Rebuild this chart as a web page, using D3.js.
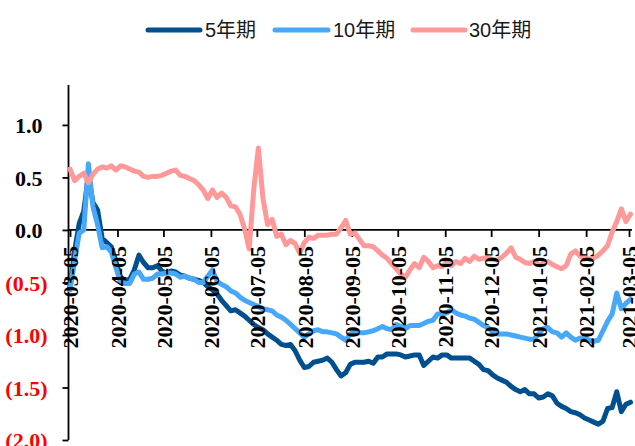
<!DOCTYPE html>
<html><head><meta charset="utf-8">
<script src="https://cdn.jsdelivr.net/npm/d3@7"></script>
<style>body{margin:0;background:#fff}</style>
</head><body>
<svg id="chart" width="635" height="446"></svg>
<script>
const dates = [
"2020-03-05","2020-03-08","2020-03-11","2020-03-14","2020-03-17","2020-03-20","2020-03-23","2020-03-26","2020-03-29","2020-04-01",
"2020-04-04","2020-04-07","2020-04-10","2020-04-13","2020-04-16","2020-04-19","2020-04-22","2020-04-25","2020-04-28","2020-05-01",
"2020-05-04","2020-05-07","2020-05-10","2020-05-13","2020-05-16","2020-05-19","2020-05-22","2020-05-25","2020-05-28","2020-05-31",
"2020-06-03","2020-06-06","2020-06-09","2020-06-12","2020-06-15","2020-06-18","2020-06-21","2020-06-24","2020-06-27","2020-06-30",
"2020-07-03","2020-07-06","2020-07-09","2020-07-12","2020-07-15","2020-07-18","2020-07-21","2020-07-24","2020-07-27","2020-07-30",
"2020-08-02","2020-08-05","2020-08-08","2020-08-11","2020-08-14","2020-08-17","2020-08-20","2020-08-23","2020-08-26","2020-08-29",
"2020-09-01","2020-09-04","2020-09-07","2020-09-10","2020-09-13","2020-09-16","2020-09-19","2020-09-22","2020-09-25","2020-09-28",
"2020-10-01","2020-10-04","2020-10-07","2020-10-10","2020-10-13","2020-10-16","2020-10-19","2020-10-22","2020-10-25","2020-10-28",
"2020-10-31","2020-11-03","2020-11-06","2020-11-09","2020-11-12","2020-11-15","2020-11-18","2020-11-21","2020-11-24","2020-11-27",
"2020-11-30","2020-12-03","2020-12-06","2020-12-09","2020-12-12","2020-12-15","2020-12-18","2020-12-21","2020-12-24","2020-12-27",
"2020-12-30","2021-01-02","2021-01-05","2021-01-08","2021-01-11","2021-01-14","2021-01-17","2021-01-20","2021-01-23","2021-01-26",
"2021-01-29","2021-02-01","2021-02-04","2021-02-07","2021-02-10","2021-02-13","2021-02-16","2021-02-19","2021-02-22","2021-02-25",
"2021-02-28","2021-03-03","2021-03-06"];

const values5 = [
-0.56,-0.20,0.06,0.18,0.52,0.26,0.19,-0.08,-0.12,-0.16,
-0.30,-0.45,-0.48,-0.47,-0.38,-0.24,-0.31,-0.36,-0.36,-0.34,
-0.39,-0.41,-0.39,-0.40,-0.43,-0.44,-0.46,-0.47,-0.48,-0.50,
-0.54,-0.57,-0.61,-0.67,-0.72,-0.77,-0.76,-0.79,-0.82,-0.86,
-0.90,-0.93,-0.95,-0.99,-1.02,-1.05,-1.09,-1.10,-1.09,-1.15,
-1.24,-1.31,-1.30,-1.26,-1.25,-1.24,-1.22,-1.26,-1.33,-1.39,
-1.36,-1.28,-1.26,-1.26,-1.26,-1.25,-1.27,-1.21,-1.21,-1.18,
-1.18,-1.18,-1.19,-1.21,-1.20,-1.19,-1.19,-1.29,-1.25,-1.21,
-1.22,-1.19,-1.19,-1.22,-1.22,-1.22,-1.22,-1.22,-1.25,-1.28,
-1.33,-1.34,-1.38,-1.41,-1.43,-1.45,-1.49,-1.52,-1.54,-1.52,
-1.56,-1.56,-1.60,-1.59,-1.56,-1.58,-1.65,-1.68,-1.70,-1.73,
-1.74,-1.76,-1.79,-1.81,-1.83,-1.85,-1.82,-1.70,-1.69,-1.54,
-1.73,-1.66,-1.64];

const values10 = [
-0.57,-0.30,-0.03,0.00,0.63,0.22,0.05,-0.17,-0.16,-0.21,
-0.36,-0.50,-0.51,-0.51,-0.42,-0.40,-0.47,-0.47,-0.46,-0.42,
-0.42,-0.41,-0.41,-0.42,-0.45,-0.44,-0.46,-0.47,-0.50,-0.50,
-0.44,-0.38,-0.49,-0.52,-0.54,-0.58,-0.60,-0.64,-0.67,-0.69,
-0.71,-0.73,-0.75,-0.76,-0.77,-0.81,-0.83,-0.86,-0.90,-0.94,
-0.98,-1.02,-0.99,-0.96,-0.95,-0.97,-0.97,-0.98,-0.99,-1.02,
-1.05,-0.99,-0.97,-0.98,-0.98,-0.97,-0.96,-0.94,-0.92,-0.94,
-0.95,-0.90,-0.92,-0.94,-0.91,-0.91,-0.91,-0.89,-0.87,-0.86,
-0.80,-0.80,-0.79,-0.76,-0.79,-0.81,-0.82,-0.84,-0.85,-0.88,
-0.91,-0.93,-0.97,-0.99,-0.99,-0.99,-1.00,-1.01,-1.02,-1.03,
-1.04,-1.04,-0.99,-0.94,-0.93,-0.97,-0.98,-1.02,-0.98,-1.02,
-1.05,-1.03,-1.03,-1.05,-1.06,-1.05,-0.96,-0.87,-0.80,-0.60,
-0.75,-0.70,-0.66];

const values30 = [
0.58,0.47,0.51,0.54,0.45,0.53,0.58,0.60,0.59,0.61,
0.57,0.61,0.60,0.58,0.56,0.55,0.51,0.50,0.51,0.51,
0.52,0.54,0.56,0.57,0.52,0.51,0.49,0.47,0.43,0.38,
0.30,0.38,0.31,0.35,0.31,0.23,0.22,0.15,0.01,-0.18,
0.39,0.78,0.30,0.05,0.10,-0.06,-0.04,-0.14,-0.10,-0.13,
-0.22,-0.12,-0.07,-0.08,-0.05,-0.05,-0.05,-0.04,-0.04,0.02,
0.09,-0.04,-0.03,-0.09,-0.15,-0.15,-0.16,-0.20,-0.24,-0.27,
-0.32,-0.37,-0.42,-0.45,-0.38,-0.32,-0.36,-0.26,-0.30,-0.36,
-0.34,-0.35,-0.31,-0.34,-0.30,-0.32,-0.27,-0.30,-0.25,-0.28,
-0.27,-0.27,-0.28,-0.29,-0.26,-0.22,-0.17,-0.26,-0.28,-0.31,
-0.32,-0.30,-0.33,-0.32,-0.30,-0.33,-0.35,-0.37,-0.34,-0.23,
-0.20,-0.25,-0.26,-0.28,-0.27,-0.24,-0.20,-0.15,-0.02,0.08,
0.20,0.08,0.15];

const seriesNames = ["5年期","10年期","30年期"];
const seriesColors = ["#00508f","#47a8fa","#ff9999"];
const yTickValues = [1.0,0.5,0.0,-0.5,-1.0,-1.5,-2.0];
const xTickLabels = ["2020-03-05","2020-04-05","2020-05-05","2020-06-05","2020-07-05","2020-08-05",
  "2020-09-05","2020-10-05","2020-11-05","2020-12-05","2021-01-05","2021-02-05","2021-03-05"];

const parse = d3.timeParse("%Y-%m-%d");
const fmt = d3.timeFormat("%Y-%m-%d");
const svg = d3.select("#chart");
const serifFont = "'Liberation Serif','Times New Roman',serif";

const x = d3.scaleTime().domain([parse("2020-03-05"), parse("2021-03-05")]).range([70, 629]);
const y = d3.scaleLinear().domain([-2, 1.38]).range([440, 85]);
const axisX0 = 68.5, axisXEnd = 632;

const allValues = [values5, values10, values30];
const series = seriesNames.map((name, i) => ({
  name, color: seriesColors[i],
  points: dates.map((d, j) => ({date: parse(d), v: allValues[i][j]}))
}));

// Y axis
const yAxis = d3.axisLeft(y).tickValues(yTickValues).tickSize(6)
  .tickFormat(v => v < 0 ? "(" + d3.format(".1f")(-v) + ")" : d3.format(".1f")(v));
const gy = svg.append("g").attr("transform", `translate(${axisX0},0)`).call(yAxis);
gy.select(".domain").remove();
gy.append("line").attr("x1",0).attr("x2",0).attr("y1",y.range()[1]).attr("y2",y.range()[0])
  .attr("stroke","#000").attr("stroke-width",1.8);
gy.selectAll(".tick line").attr("stroke","#000").attr("stroke-width",1.8);
gy.selectAll(".tick text")
  .attr("x", d => d < 0 ? -21 : -26)
  .attr("dy","0.35em")
  .style("font-family", serifFont).style("font-size","22px").style("font-weight","bold")
  .attr("fill", d => d < 0 ? "#ff0000" : "#000");

// X axis line + ticks (below series)
const xTickDates = xTickLabels.map(parse);
const gx = svg.append("g").attr("transform", `translate(0,${y(0)})`)
  .call(d3.axisBottom(x).tickValues(xTickDates).tickSize(7).tickFormat(""));
gx.select(".domain").remove();
gx.append("line").attr("x1",axisX0).attr("x2",axisXEnd).attr("stroke","#000").attr("stroke-width",1.8);
gx.selectAll(".tick line").attr("stroke","#000").attr("stroke-width",1.8);

// Series
const line = d3.line().x(d => x(d.date)).y(d => y(d.v));
svg.append("g").selectAll("path").data(series).join("path")
  .attr("d", d => line(d.points))
  .attr("fill","none").attr("stroke", d => d.color)
  .attr("stroke-width", 5).attr("stroke-linejoin","round").attr("stroke-linecap","round");

// X tick labels (on top)
const gxl = svg.append("g").attr("transform", `translate(0,${y(0)})`)
  .call(d3.axisBottom(x).tickValues(xTickDates).tickSize(0).tickFormat(fmt));
gxl.select(".domain").remove();
gxl.selectAll(".tick text")
  .attr("transform","rotate(-90)").attr("x",-16).attr("y",0).attr("dy","0.35em")
  .style("text-anchor","end")
  .style("font-family", serifFont).style("font-size","22px").style("font-weight","bold")
  .attr("fill","#000");

// Legend
const legendItems = [
  {name: seriesNames[0], color: seriesColors[0], x1: 148, x2: 200, tx: 205},
  {name: seriesNames[1], color: seriesColors[1], x1: 275, x2: 328, tx: 333},
  {name: seriesNames[2], color: seriesColors[2], x1: 413, x2: 465, tx: 469}
];
const lg = svg.append("g").attr("transform","translate(0,30)");
lg.selectAll("line").data(legendItems).join("line")
  .attr("x1", d => d.x1).attr("x2", d => d.x2)
  .attr("stroke", d => d.color).attr("stroke-width", 5).attr("stroke-linecap","round");
lg.selectAll("text").data(legendItems).join("text")
  .attr("x", d => d.tx).attr("y", 0).attr("dy","0.35em")
  .text(d => d.name)
  .style("font-family","'Liberation Sans','Noto Sans CJK SC',sans-serif")
  .style("font-size","20px").attr("fill","#1a1a1a");
</script>
</body></html>
